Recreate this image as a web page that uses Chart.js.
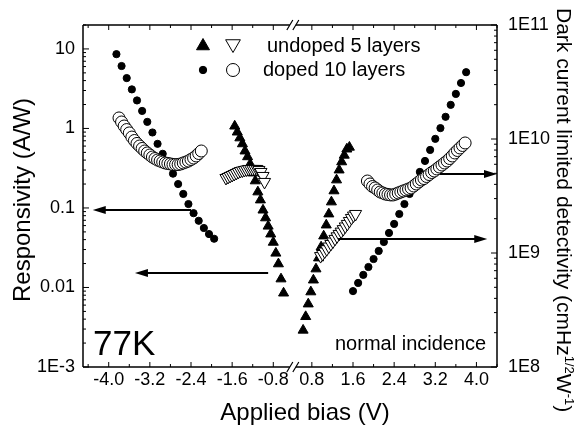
<!DOCTYPE html>
<html>
<head>
<meta charset="utf-8">
<title>Responsivity and detectivity vs applied bias</title>
<script src="https://cdn.jsdelivr.net/npm/chart.js@4.4.1/dist/chart.umd.min.js"></script>
<style>
  body { margin: 0; background: #fff; }
  canvas { display: block; }
</style>
</head>
<body>
<canvas id="myChart" width="576" height="425"></canvas>
<script>
//bias in V, responsivity in A/W, detectivity in cmHz^1/2 W^-1

//filled triangles: undoped 5 layers, responsivity (left axis)
const undopedRespBias = [-1.55, -1.50, -1.45, -1.40, -1.35, -1.30, -1.25, -1.20, -1.15, -1.10,
  -1.05, -1.00, -0.95, -0.90, -0.85, -0.80, -0.75, -0.70, -0.65, -0.60,
  0.63, 0.68, 0.73, 0.78, 0.83, 0.88, 0.93, 0.98, 1.03, 1.08,
  1.13, 1.18, 1.23, 1.28, 1.33, 1.38, 1.43, 1.48, 1.53];
const undopedResp = [1.07, 0.90, 0.76, 0.64, 0.52, 0.44, 0.357, 0.275, 0.219, 0.159,
  0.126, 0.094, 0.075, 0.059, 0.047, 0.037, 0.027, 0.0198, 0.0128, 0.0085,
  0.0029, 0.0043, 0.0062, 0.0088, 0.0124, 0.0171, 0.0235, 0.0323, 0.0444, 0.061,
  0.084, 0.119, 0.164, 0.225, 0.30, 0.38, 0.46, 0.55, 0.58];

//filled dots: doped 10 layers, responsivity (left axis)
const dopedRespBias = [-3.85, -3.75, -3.65, -3.55, -3.45, -3.35, -3.25, -3.15, -3.05, -2.95,
  -2.85, -2.75, -2.65, -2.55, -2.45, -2.35, -2.25, -2.15, -2.05, -1.95,
  1.6, 1.7, 1.8, 1.9, 2.0, 2.1, 2.2, 2.3, 2.4, 2.5, 2.6, 2.7,
  2.8, 2.9, 3.0, 3.1, 3.2, 3.3, 3.4, 3.5, 3.6, 3.7, 3.8];
const dopedResp = [8.6, 6.1, 4.3, 3.1, 2.25, 1.66, 1.21, 0.89, 0.64, 0.48,
  0.36, 0.27, 0.20, 0.15, 0.112, 0.086, 0.069, 0.056, 0.047, 0.041,
  0.0090, 0.0114, 0.0144, 0.0181, 0.0228, 0.0288, 0.0373, 0.0485, 0.063, 0.084, 0.112, 0.15,
  0.206, 0.284, 0.39, 0.537, 0.74, 1.01, 1.40, 1.98, 2.72, 3.73, 5.1];

//open triangles: undoped 5 layers, detectivity (right axis)
const undopedDetBias = [-1.72, -1.68, -1.64, -1.60, -1.56, -1.52, -1.48, -1.44, -1.40, -1.36,
  -1.32, -1.28, -1.24, -1.20, -1.16, -1.12, -1.08, -1.04, -1.00, -0.97,
  0.97, 1.01, 1.05, 1.09, 1.13, 1.17, 1.21, 1.25, 1.29, 1.33,
  1.37, 1.41, 1.45, 1.49, 1.53, 1.57, 1.61, 1.65];
const undopedDet = [4.55e9, 4.64e9, 4.74e9, 4.83e9, 4.93e9, 5.03e9, 5.14e9, 5.24e9, 5.29e9, 5.35e9,
  5.40e9, 5.46e9, 5.46e9, 5.46e9, 5.46e9, 5.46e9, 5.35e9, 5.14e9, 4.74e9, 4.20e9,
  9.4e8, 9.8e8, 1.03e9, 1.08e9, 1.14e9, 1.20e9, 1.26e9, 1.33e9, 1.40e9, 1.47e9,
  1.54e9, 1.62e9, 1.71e9, 1.80e9, 1.91e9, 2.03e9, 2.13e9, 2.20e9];

//open circles: doped 10 layers, detectivity (right axis)
const dopedDetBias = [-3.80, -3.75, -3.70, -3.65, -3.60, -3.55, -3.50, -3.45, -3.40, -3.35,
  -3.30, -3.25, -3.20, -3.15, -3.10, -3.05, -3.00, -2.95, -2.90, -2.85,
  -2.80, -2.75, -2.70, -2.65, -2.60, -2.55, -2.50, -2.45, -2.40, -2.35,
  -2.30, -2.25, -2.20,
  1.88, 1.93, 1.98, 2.03, 2.08, 2.13, 2.18, 2.23, 2.28, 2.33,
  2.38, 2.43, 2.48, 2.53, 2.58, 2.63, 2.68, 2.73, 2.78, 2.83,
  2.88, 2.93, 2.98, 3.03, 3.08, 3.13, 3.18, 3.23, 3.28, 3.33,
  3.38, 3.43, 3.48, 3.53, 3.58, 3.63, 3.68, 3.73, 3.78];
const dopedDet = [1.53e10, 1.41e10, 1.30e10, 1.21e10, 1.13e10, 1.04e10, 9.70e9, 9.14e9, 8.68e9, 8.26e9,
  7.85e9, 7.54e9, 7.24e9, 6.95e9, 6.74e9, 6.54e9, 6.41e9, 6.28e9, 6.16e9, 6.10e9,
  6.04e9, 5.97e9, 5.97e9, 5.97e9, 6.04e9, 6.16e9, 6.28e9, 6.41e9, 6.61e9, 6.81e9,
  7.10e9, 7.46e9, 7.85e9,
  4.28e9, 4.03e9, 3.83e9, 3.72e9, 3.57e9, 3.43e9, 3.36e9, 3.29e9, 3.26e9, 3.23e9,
  3.23e9, 3.29e9, 3.36e9, 3.43e9, 3.50e9, 3.57e9, 3.64e9, 3.72e9, 3.87e9, 4.03e9,
  4.20e9, 4.37e9, 4.50e9, 4.69e9, 4.88e9, 5.08e9, 5.24e9, 5.46e9, 5.68e9, 5.91e9,
  6.16e9, 6.41e9, 6.74e9, 7.10e9, 7.54e9, 7.93e9, 8.34e9, 8.77e9, 9.23e9];

//arrows pointing to the axis each curve belongs to
const arrowFrom = [-2.40, -0.90, 3.29, 1.31];
const arrowTo = [-4.31, -3.49, 4.40, 4.21];
const arrowLevel = [0.094, 0.0152, 4.93e9, 1.33e9];
const arrowAxis = ['y', 'y', 'y2', 'y2'];

//tick labels
const biasTicks = [-4.0, -3.2, -2.4, -1.6, -0.8, 0.8, 1.6, 2.4, 3.2, 4.0];
const biasMinorTicks = [-4.4, -3.6, -2.8, -2.0, -1.2, 1.2, 2.0, 2.8, 3.6, 4.4];
const respTicks = [0.001, 0.01, 0.1, 1, 10];
const respTickLabels = ['1E-3', '0.01', '0.1', '1', '10'];
const detTicks = [1e8, 1e9, 1e10, 1e11];
const detTickLabels = ['1E8', '1E9', '1E10', '1E11'];

const FONT = '"Liberation Sans", Arial, Helvetica, sans-serif';

//the bias axis is broken around zero: positive biases are shifted left
const BREAK_SHIFT = 0.85;
const BREAK_AT = -0.42;
const toAxis = v => (v > 0 ? v - BREAK_SHIFT : v);
const fromAxis = u => (u > BREAK_AT ? u + BREAK_SHIFT : u);

function points(bias, vals) {
  return bias.map((b, i) => ({ x: toAxis(b), y: vals[i] }));
}

function drawMarker(ctx, shape, x, y, r, filled) {
  ctx.beginPath();
  if (shape === 'circle') {
    ctx.arc(x, y, r, 0, Math.PI * 2);
  } else {
    const s = shape === 'up' ? 1 : -1;
    ctx.moveTo(x, y - s * r);
    ctx.lineTo(x + r * 0.866, y + s * r / 2);
    ctx.lineTo(x - r * 0.866, y + s * r / 2);
    ctx.closePath();
  }
  ctx.fillStyle = filled ? '#000' : '#fff';
  ctx.fill();
  ctx.lineWidth = 1;
  ctx.strokeStyle = '#000';
  ctx.stroke();
}

//frame, inward ticks, axis break, arrows, titles and notes
const decorations = {
  id: 'decorations',
  afterDraw(chart) {
    const { ctx, chartArea: a, scales } = chart;
    const xs = scales.x;
    const bx = xs.getPixelForValue(BREAK_AT);
    ctx.save();
    ctx.strokeStyle = '#000';
    ctx.lineWidth = 1.5;
    ctx.beginPath();
    ctx.moveTo(a.left, a.top); ctx.lineTo(a.left, a.bottom);
    ctx.moveTo(a.right, a.top); ctx.lineTo(a.right, a.bottom);
    for (const yy of [a.top, a.bottom]) {
      ctx.moveTo(a.left, yy); ctx.lineTo(bx - 3, yy);
      ctx.moveTo(bx + 3, yy); ctx.lineTo(a.right, yy);
    }
    ctx.stroke();

    ctx.lineWidth = 1.2;
    ctx.beginPath();
    for (const yy of [a.top, a.bottom]) {
      for (const cx of [bx - 3, bx + 3]) {
        ctx.moveTo(cx - 3, yy + 5); ctx.lineTo(cx + 3, yy - 5);
      }
    }
    ctx.stroke();

    //ticks point into the plot
    ctx.lineWidth = 1;
    ctx.beginPath();
    const xTicks = (list, len) => list.forEach(v => {
      const px = xs.getPixelForValue(toAxis(v));
      ctx.moveTo(px, a.bottom); ctx.lineTo(px, a.bottom - len);
      ctx.moveTo(px, a.top); ctx.lineTo(px, a.top + len);
    });
    xTicks(biasTicks, 5);
    xTicks(biasMinorTicks, 3);
    const logTicks = (scale, x0, dir) => {
      for (let e = Math.floor(Math.log10(scale.min)); e <= Math.ceil(Math.log10(scale.max)); e++) {
        for (let m = 1; m < 10; m++) {
          const v = m * Math.pow(10, e);
          if (v < scale.min * 0.999 || v > scale.max * 1.001) continue;
          const py = scale.getPixelForValue(v);
          ctx.moveTo(x0, py); ctx.lineTo(x0 + dir * (m === 1 ? 6 : 3), py);
        }
      }
    };
    logTicks(scales.y, a.left, 1);
    logTicks(scales.y2, a.right, -1);
    ctx.stroke();

    //arrows
    ctx.lineWidth = 2;
    ctx.fillStyle = '#000';
    arrowFrom.forEach((v, i) => {
      const py = scales[arrowAxis[i]].getPixelForValue(arrowLevel[i]);
      const x1 = xs.getPixelForValue(toAxis(v));
      const x2 = xs.getPixelForValue(toAxis(arrowTo[i]));
      const dir = Math.sign(x2 - x1);
      ctx.beginPath(); ctx.moveTo(x1, py); ctx.lineTo(x2 - dir * 10, py); ctx.stroke();
      ctx.beginPath();
      ctx.moveTo(x2, py); ctx.lineTo(x2 - dir * 13, py - 4); ctx.lineTo(x2 - dir * 13, py + 4);
      ctx.closePath(); ctx.fill();
    });

    //legend
    drawMarker(ctx, 'up', 203, 46, 7.5, true);
    drawMarker(ctx, 'down', 233, 44, 8.5, false);
    drawMarker(ctx, 'circle', 203, 70, 3.7, true);
    drawMarker(ctx, 'circle', 233, 70, 6.5, false);
    ctx.fillStyle = '#000';
    ctx.textAlign = 'left';
    ctx.textBaseline = 'alphabetic';
    ctx.font = '20px ' + FONT;
    ctx.fillText('undoped 5 layers', 267, 52);
    ctx.fillText('doped 10 layers', 263, 76);

    //notes
    ctx.fillText('normal incidence', 335, 350);
    ctx.font = '35px ' + FONT;
    ctx.fillText('77K', 93, 355);

    //axis titles
    ctx.font = '24px ' + FONT;
    ctx.textAlign = 'center';
    ctx.fillText('Applied bias (V)', 305, 420);
    ctx.save();
    ctx.translate(30, 200);
    ctx.rotate(-Math.PI / 2);
    ctx.fillText('Responsivity (A/W)', 0, 0);
    ctx.restore();

    ctx.save();
    ctx.translate(557, 8);
    ctx.rotate(Math.PI / 2);
    ctx.textAlign = 'left';
    let cx = 0;
    const seg = (t, size, rise) => {
      ctx.font = size + 'px ' + FONT;
      ctx.fillText(t, cx, -rise);
      cx += ctx.measureText(t).width;
    };
    seg('Dark current limited detectivity (cmHz', 21, 0);
    seg('1/2', 13, 8);
    seg('W', 21, 0);
    seg('-1', 13, 8);
    seg(')', 21, 0);
    ctx.restore();
    ctx.restore();
  }
};

const tickFont = { family: FONT, size: 18 };

const ctx = document.getElementById('myChart').getContext('2d');
const myChart = new Chart(ctx, {
  type: 'scatter',
  data: {
    datasets: [{
      label: 'undoped 5 layers, detectivity',
      data: points(undopedDetBias, undopedDet),
      yAxisID: 'y2',
      pointStyle: 'triangle',
      pointRotation: 180,
      pointRadius: 7,
      pointBackgroundColor: '#fff',
      pointBorderColor: '#000',
      pointBorderWidth: 1,
      order: 0
    }, {
      label: 'doped 10 layers, detectivity',
      data: points(dopedDetBias, dopedDet),
      yAxisID: 'y2',
      pointStyle: 'circle',
      pointRadius: 6,
      pointBackgroundColor: '#fff',
      pointBorderColor: '#000',
      pointBorderWidth: 1,
      order: 1
    }, {
      label: 'undoped 5 layers, responsivity',
      data: points(undopedRespBias, undopedResp),
      yAxisID: 'y',
      pointStyle: 'triangle',
      pointRadius: 5.8,
      pointBackgroundColor: '#000',
      pointBorderColor: '#000',
      pointBorderWidth: 1,
      order: 2
    }, {
      label: 'doped 10 layers, responsivity',
      data: points(dopedRespBias, dopedResp),
      yAxisID: 'y',
      pointStyle: 'circle',
      pointRadius: 3.6,
      pointBackgroundColor: '#000',
      pointBorderColor: '#000',
      pointBorderWidth: 1,
      order: 3
    }]
  },
  options: {
    responsive: false,
    animation: false,
    events: [],
    layout: { padding: { top: 25 } },
    plugins: {
      legend: { display: false },
      tooltip: { enabled: false }
    },
    scales: {
      x: {
        type: 'linear',
        min: -4.5,
        max: toAxis(4.4),
        grid: { display: false, drawTicks: false },
        border: { display: false },
        afterBuildTicks: s => { s.ticks = biasTicks.map(v => ({ value: toAxis(v) })); },
        ticks: {
          callback: val => fromAxis(val).toFixed(1),
          font: tickFont, color: '#000', padding: 2, autoSkip: false, maxRotation: 0
        },
        afterFit: s => { s.height = 58; }
      },
      y: {
        type: 'logarithmic',
        position: 'left',
        min: 0.001,
        max: 20,
        grid: { display: false, drawTicks: false },
        border: { display: false },
        afterBuildTicks: s => { s.ticks = respTicks.map(v => ({ value: v })); },
        ticks: {
          callback: (val, i) => respTickLabels[i],
          font: tickFont, color: '#000', padding: 8, autoSkip: false
        },
        afterFit: s => { s.width = 83; }
      },
      y2: {
        type: 'logarithmic',
        position: 'right',
        min: 1e8,
        max: 1e11,
        grid: { display: false, drawTicks: false },
        border: { display: false },
        afterBuildTicks: s => { s.ticks = detTicks.map(v => ({ value: v })); },
        ticks: {
          callback: (val, i) => detTickLabels[i],
          font: tickFont, color: '#000', padding: 11, autoSkip: false
        },
        afterFit: s => { s.width = 79; }
      }
    }
  },
  plugins: [decorations]
});
</script>
</body>
</html>
